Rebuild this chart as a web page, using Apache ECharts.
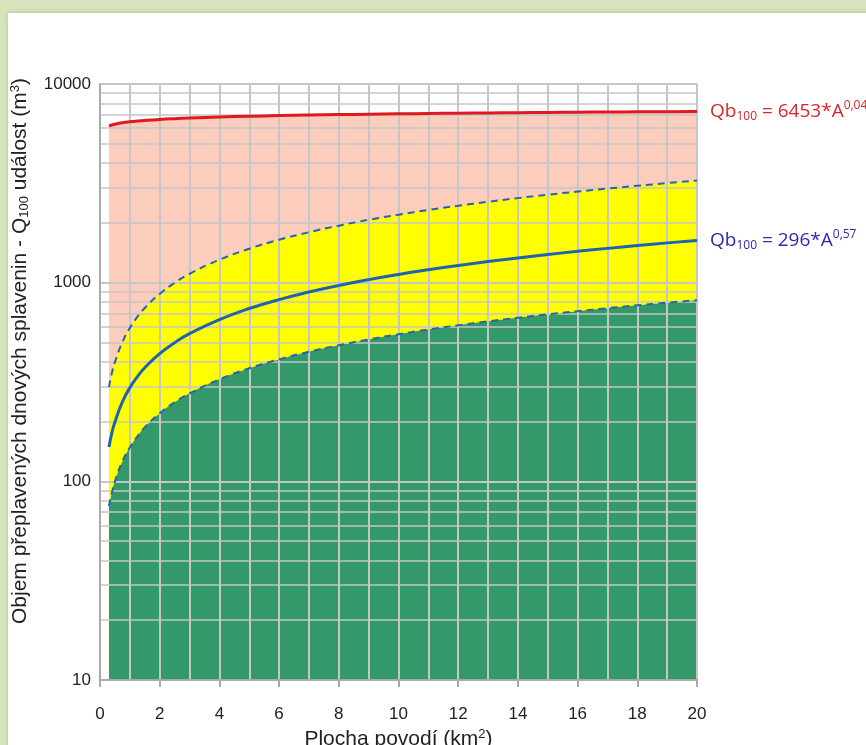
<!DOCTYPE html>
<html>
<head>
<meta charset="utf-8">
<script src="https://cdn.jsdelivr.net/npm/echarts@6/dist/echarts.min.js"></script>
<style>
  html,body{margin:0;padding:0;background:#d7e3bc;width:866px;height:745px;overflow:hidden;}
  #panel{position:absolute;left:8px;top:13px;width:870px;height:740px;background:#fff;box-shadow:0 0 4px rgba(150,170,120,0.6);}
  #chart{position:absolute;left:0;top:0;width:866px;height:745px;}
</style>
</head>
<body>
<div id="panel"></div>
<div id="chart"></div>
<script>
// Catchment area A (km²)
const area = [0.3, 0.4, 0.5, 0.75, 1, 1.25, 1.5, 2, 2.5, 3, 4, 5, 6, 7, 8, 9, 10, 11, 12, 13, 14, 15, 16, 17, 18, 19, 20];
// Upper envelope (red) Qb100 = 6453*A^0.04
const redLine = [6150, 6221, 6277, 6379, 6453, 6511, 6558, 6634, 6694, 6743, 6821, 6882, 6932, 6976, 7013, 7046, 7076, 7103, 7127, 7150, 7172, 7191, 7210, 7227, 7244, 7260, 7275];
// Upper dashed (blue)
const upperDash = [298, 352, 398, 502, 592, 672, 746, 878, 998, 1108, 1304, 1482, 1644, 1794, 1936, 2072, 2200, 2322, 2440, 2554, 2664, 2772, 2876, 2976, 3074, 3172, 3264];
// Central curve Qb100 = 296*A^0.57
const blueLine = [149, 176, 199, 251, 296, 336, 373, 439, 499, 554, 652, 741, 822, 897, 968, 1036, 1100, 1161, 1220, 1277, 1332, 1386, 1438, 1488, 1537, 1586, 1632];
// Lower dashed (blue)
const lowerDash = [75, 88, 100, 126, 148, 168, 187, 220, 250, 277, 326, 371, 411, 449, 484, 518, 550, 581, 610, 639, 666, 693, 719, 744, 769, 793, 816];
// Axis ticks
const xTicks = [0, 2, 4, 6, 8, 10, 12, 14, 16, 18, 20];
const yTicks = [10, 100, 1000, 10000];
const yMinorGrid = [20,30,40,50,60,70,80,90,200,300,400,500,600,700,800,900,2000,3000,4000,5000,6000,7000,8000,9000];

const pair = arr => area.map((a, i) => [a, arr[i]]);

const chart = echarts.init(document.getElementById('chart'), null, {renderer: 'canvas'});
const gridCol = '#c6c6c6';
const axisCol = '#a9a9a9';
const eqFont = 'Open Sans, Liberation Sans';

function eqRich(col) {
  return {
    a: {fontSize: 19, color: col, fontFamily: eqFont},
    s: {fontSize: 12, color: col, fontFamily: eqFont, verticalAlign: 'bottom', padding: [11,0,0,0]},
    p: {fontSize: 12, color: col, fontFamily: eqFont, verticalAlign: 'top', padding: [0,0,9,0]}
  };
}

const option = {
  backgroundColor: 'transparent',
  animation: false,
  grid: {left: 100, right: 169, top: 84, bottom: 65, containLabel: false, outerBoundsMode: 'none'},
  xAxis: [
    {
      type: 'value', min: 0, max: 20, interval: 2, z: 10,
      axisLine: {show: true, lineStyle: {color: axisCol, width: 2}},
      axisTick: {show: true, length: 7, lineStyle: {color: axisCol, width: 2}},
      axisLabel: {color: '#222', fontSize: 17, fontFamily: 'Liberation Sans, Arial', margin: 26},
      splitLine: {show: false},
      name: '{t|Plocha povodí (km}{p|2}{t|)}',
      nameLocation: 'middle', nameGap: 46,
      nameTextStyle: {rich: {
        t: {fontSize: 21, color: '#222', fontFamily: 'Liberation Sans, Arial'},
        p: {fontSize: 13, color: '#222', fontFamily: 'Liberation Sans, Arial', verticalAlign: 'top', padding: [0,0,9,0]}
      }}
    },
    {
      type: 'value', min: 0, max: 20, interval: 1, z: 9,
      axisLine: {show: false}, axisTick: {show: false}, axisLabel: {show: false},
      splitLine: {show: true, lineStyle: {color: gridCol, width: 2}}
    }
  ],
  yAxis: {
    type: 'log', logBase: 10, min: 10, max: 10000, z: 10,
    axisLine: {show: true, lineStyle: {color: axisCol, width: 2}},
    axisTick: {show: false},
    axisLabel: {color: '#222', fontSize: 17, fontFamily: 'Liberation Sans, Arial', margin: 9,
      formatter: v => String(Math.round(v))},
    splitLine: {show: true, lineStyle: {color: gridCol, width: 2}},
    name: '{t|Objem přeplavených dnových splavenin - Q}{s|100}{t| událost (m}{p|3}{t|)}',
    nameLocation: 'middle', nameGap: 69, nameRotate: 90,
    nameTextStyle: {padding: [0, 0, 0, 62], rich: {
      t: {fontSize: 21, color: '#222', fontFamily: 'Liberation Sans, Arial'},
      s: {fontSize: 13, color: '#222', fontFamily: 'Liberation Sans, Arial', verticalAlign: 'bottom', padding: [9,0,0,0]},
      p: {fontSize: 13, color: '#222', fontFamily: 'Liberation Sans, Arial', verticalAlign: 'top', padding: [0,0,9,0]}
    }}
  },
  series: [
    // filled zones (below the grid)
    {
      name: 'redArea', type: 'line', data: pair(redLine), smooth: true, showSymbol: false, z: 2, silent: true,
      lineStyle: {width: 0},
      areaStyle: {color: '#fcccbc', opacity: 1, origin: 'start'}
    },
    {
      name: 'upperArea', type: 'line', data: pair(upperDash), smooth: true, showSymbol: false, z: 3, silent: true,
      lineStyle: {width: 0},
      areaStyle: {color: '#ffff00', opacity: 1, origin: 'start'}
    },
    {
      name: 'lowerArea', type: 'line', data: pair(lowerDash), smooth: true, showSymbol: false, z: 4, silent: true,
      lineStyle: {width: 0},
      areaStyle: {color: '#33996a', opacity: 1, origin: 'start'}
    },
    {
      name: 'minorGrid', type: 'line', data: [], z: 8, silent: true,
      markLine: {
        silent: true, symbol: ['none', 'none'], label: {show: false},
        lineStyle: {color: gridCol, width: 1.5, type: 'solid'},
        animation: false,
        data: yMinorGrid.map(v => ({yAxis: v}))
      }
    },
    // curves (above the grid)
    {
      name: 'red', type: 'line', data: pair(redLine), smooth: true, showSymbol: false, z: 12,
      lineStyle: {color: '#e0191e', width: 3},
      endLabel: {show: true, offset: [5, 0], formatter: '{a|Qb}{s|100}{a| = 6453*A}{p|0,04}', rich: eqRich('#d9262b')}
    },
    {
      name: 'upper', type: 'line', data: pair(upperDash), smooth: true, showSymbol: false, z: 12,
      lineStyle: {color: '#2a63a8', width: 2, type: [7, 5]}
    },
    {
      name: 'lower', type: 'line', data: pair(lowerDash), smooth: true, showSymbol: false, z: 12,
      lineStyle: {color: '#2a63a8', width: 2, type: [7, 5]}
    },
    {
      name: 'blue', type: 'line', data: pair(blueLine), smooth: true, showSymbol: false, z: 13,
      lineStyle: {color: '#1e64ad', width: 3},
      endLabel: {show: true, offset: [5, 0], formatter: '{a|Qb}{s|100}{a| = 296*A}{p|0,57}', rich: eqRich('#2b2bb0')}
    }
  ]
};
chart.setOption(option);
</script>
</body>
</html>
